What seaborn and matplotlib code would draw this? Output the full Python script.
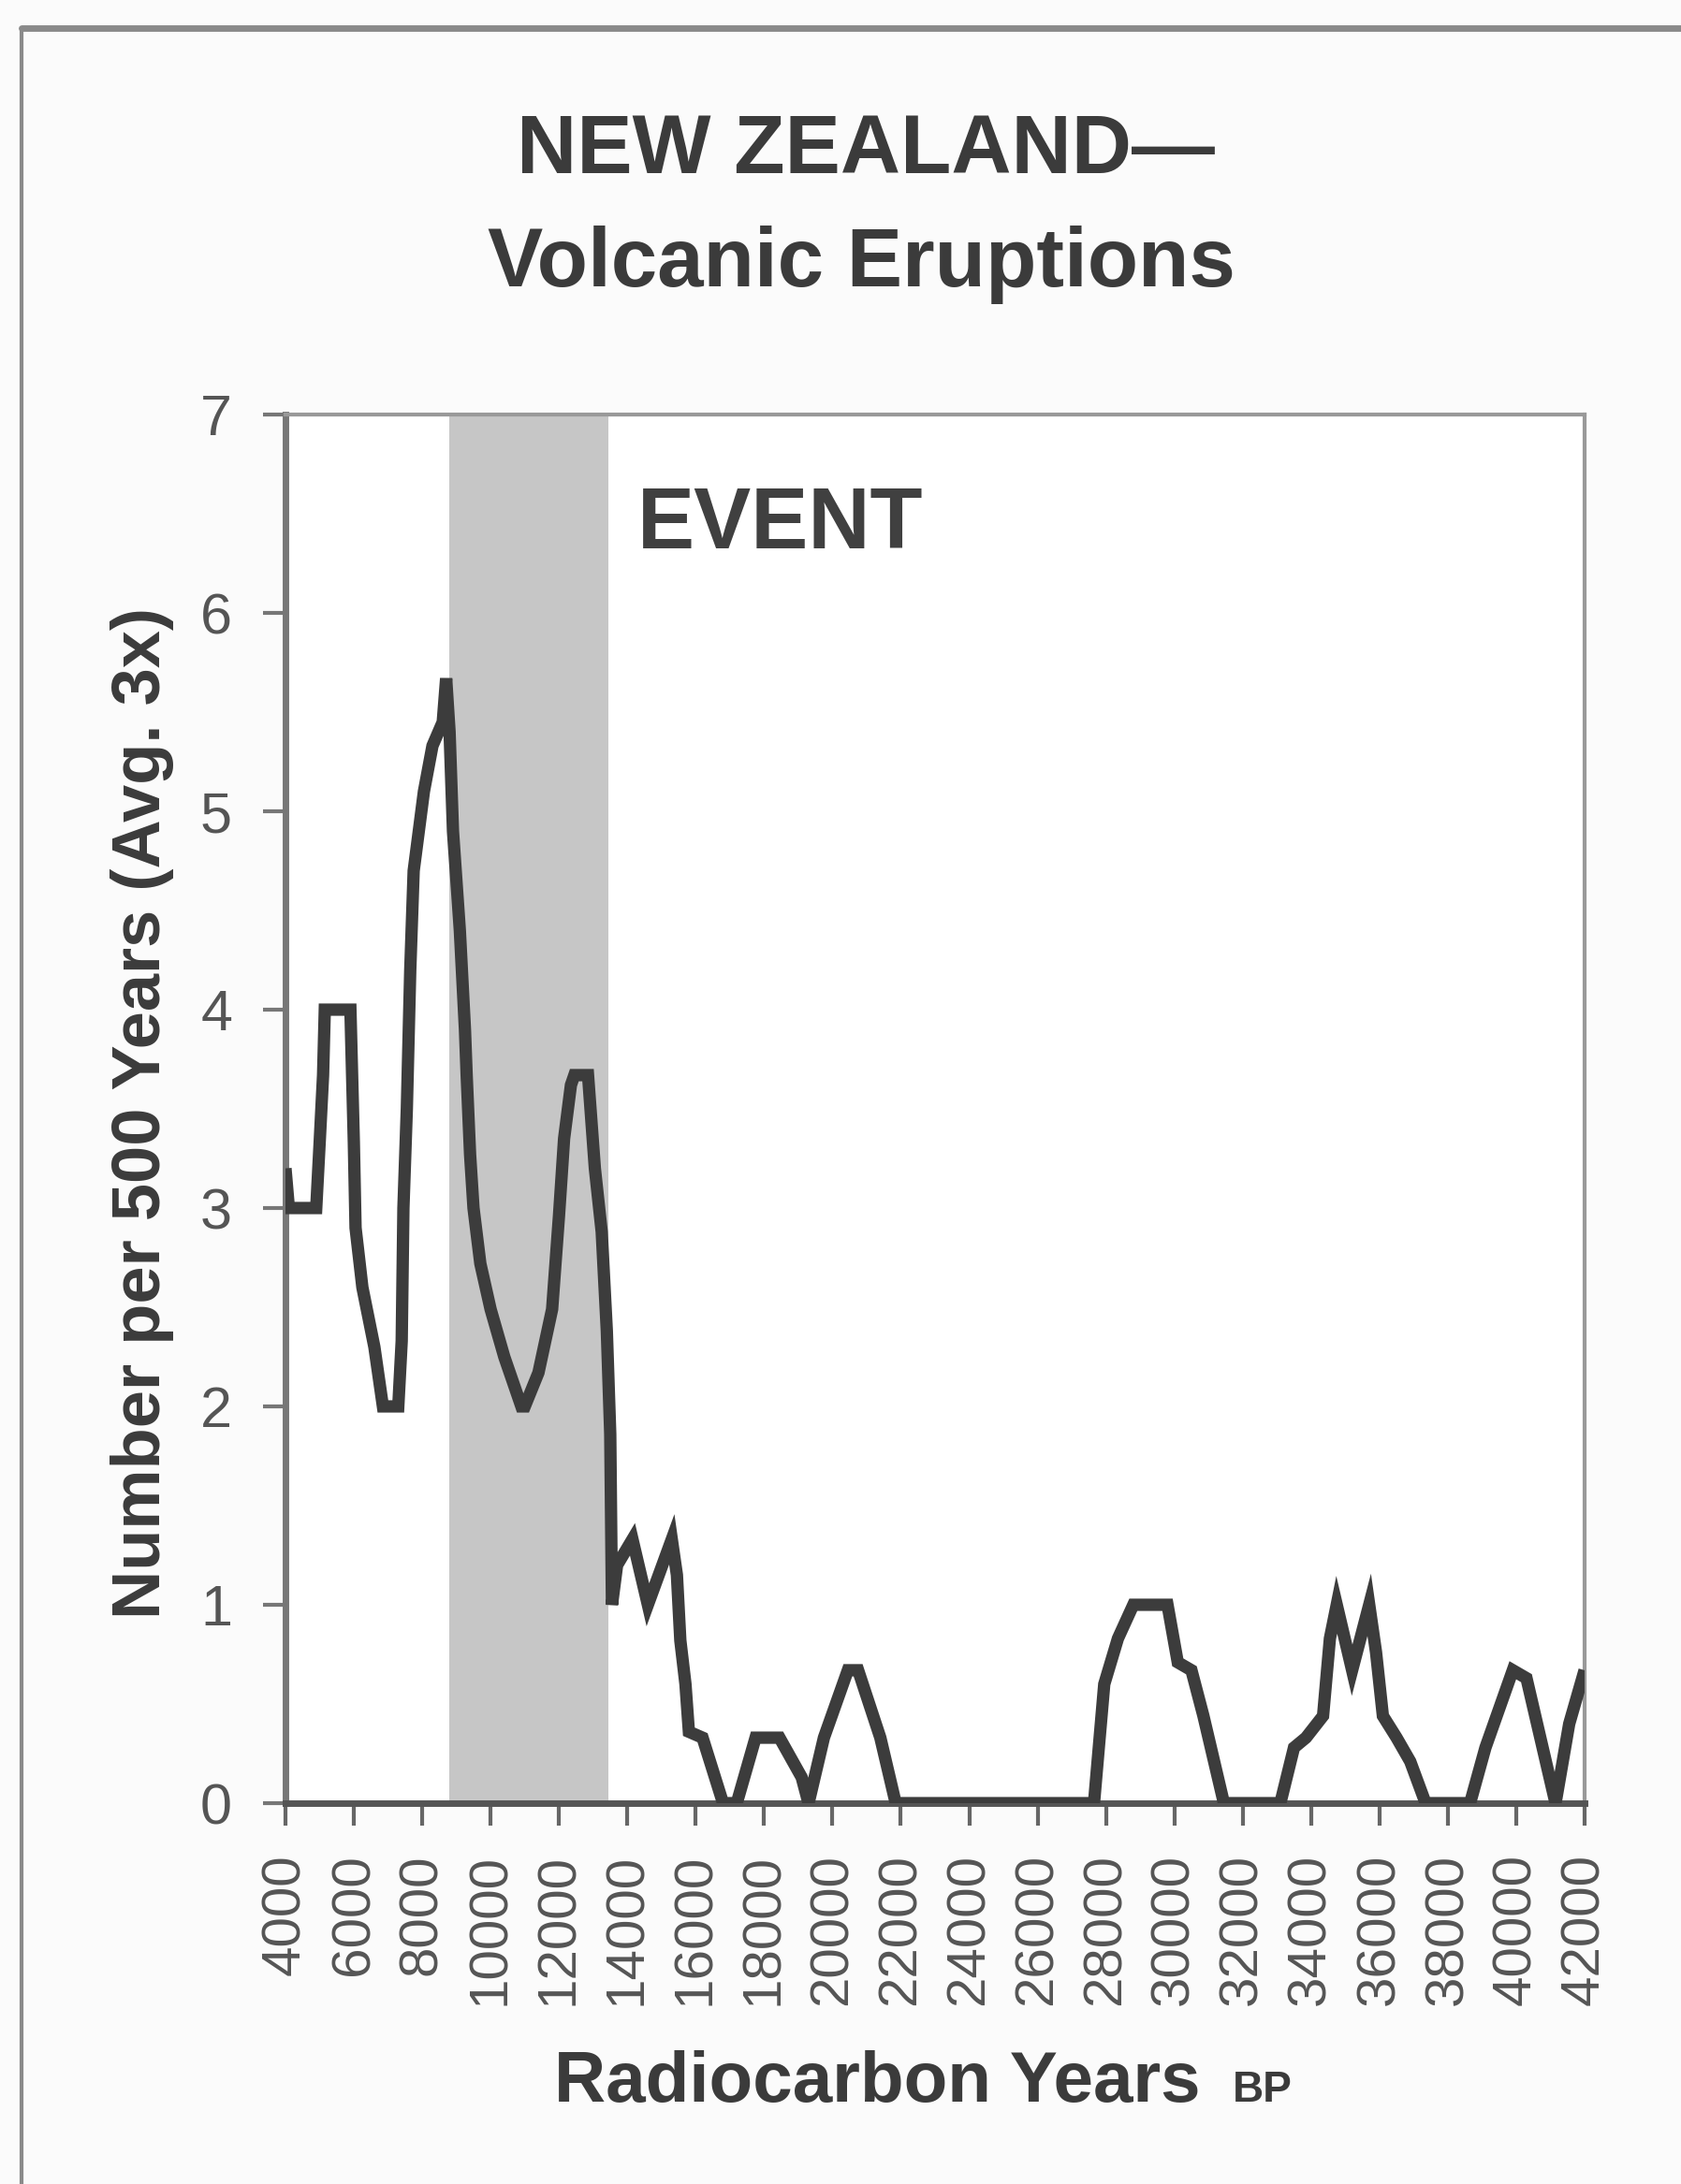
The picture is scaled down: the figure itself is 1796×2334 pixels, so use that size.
import matplotlib
matplotlib.use("Agg")
import matplotlib.pyplot as plt
from matplotlib.lines import Line2D
import seaborn as sns
import pandas as pd

# ---- data ----
years = [4000, 4100, 4900, 5000, 5100, 5150, 5900, 6000, 6050, 6250, 6600, 6850,
         7300, 7400, 7450, 7550, 7650, 7750, 7900, 8050, 8300, 8600, 8700, 8800,
         8900, 9100, 9250, 9300, 9400, 9500, 9700, 10000, 10400, 10900, 11000,
         11400, 11800, 12000, 12150, 12350, 12450, 12850, 13050, 13250, 13400,
         13500, 13550, 13700, 14150, 14600, 15300, 15450, 15550, 15700, 15800,
         16200, 16800, 17200, 17750, 18450, 19100, 19300, 19750, 20450, 20750,
         21400, 21850, 27650, 27950, 28350, 28800, 29800, 30100, 30500, 30850,
         31450, 33100, 33500, 33850, 34350, 34550, 34750, 35200, 35700, 35900,
         36100, 36500, 36900, 37350, 38650, 39100, 39900, 40300, 41150, 41550,
         42000]
eruptions = [3.2, 3.0, 3.0, 3.33, 3.67, 4.0, 4.0, 3.33, 2.9, 2.6, 2.3, 2.0,
             2.0, 2.33, 3.0, 3.5, 4.2, 4.7, 4.9, 5.1, 5.33, 5.45, 5.67, 5.4,
             4.9, 4.4, 3.9, 3.67, 3.27, 3.0, 2.72, 2.49, 2.25, 2.0, 2.0,
             2.17, 2.49, 2.96, 3.35, 3.62, 3.67, 3.67, 3.2, 2.88, 2.38,
             1.86, 1.0, 1.2, 1.33, 1.0, 1.33, 1.15, 0.82, 0.6, 0.36,
             0.33, 0.0, 0.0, 0.33, 0.33, 0.13, 0.0, 0.33, 0.67, 0.67,
             0.33, 0.0, 0.0, 0.6, 0.83, 1.0, 1.0, 0.71, 0.67, 0.44,
             0.0, 0.0, 0.28, 0.33, 0.44, 0.83, 1.0, 0.67, 1.0, 0.76,
             0.44, 0.33, 0.21, 0.0, 0.0, 0.28, 0.67, 0.63, 0.0, 0.4,
             0.67]
event_span = [8800, 13450]
x_ticks = list(range(4000, 42001, 2000))
y_ticks = [0, 1, 2, 3, 4, 5, 6, 7]

df = pd.DataFrame({"year": years, "n": eruptions})

sns.set_theme(style="white")
plt.rcParams["font.family"] = ["Liberation Sans", "DejaVu Sans"]

W, H = 1796, 2334
fig = plt.figure(figsize=(W / 100, H / 100), dpi=100, facecolor="#fbfbfb")
ax = fig.add_axes([305 / W, 1 - 1927 / H, (1693 - 305) / W, (1927 - 443) / H])
ax.set_facecolor("white")

ax.axvspan(event_span[0], event_span[1], color="#c6c6c6", lw=0, zorder=0)
sns.lineplot(data=df, x="year", y="n", ax=ax, color="#3c3c3c", lw=9.5,
             estimator=None, sort=False, legend=False, zorder=3,
             solid_joinstyle="miter", solid_capstyle="butt")

ax.set_xlim(4000, 42000)
ax.set_ylim(0, 7)
ax.set_xticks(x_ticks)
ax.set_xticklabels([str(v) for v in x_ticks], rotation=90, va="top", ha="center")
ax.set_yticks(y_ticks)
ax.set_yticklabels([str(v) for v in y_ticks])
ax.tick_params(axis="x", length=17, width=3, color="#666666", pad=22,
               labelsize=42, labelcolor="#555555", bottom=True, direction="out")
ax.tick_params(axis="y", length=17, width=3, color="#777777", pad=24,
               labelsize=44, labelcolor="#555555", left=True, direction="out")
ax.set_xlabel("")
ax.set_ylabel("")

for side, c, w in [("left", "#777777", 5), ("bottom", "#555555", 5),
                   ("top", "#999999", 3), ("right", "#999999", 3)]:
    ax.spines[side].set_visible(True)
    ax.spines[side].set_color(c)
    ax.spines[side].set_linewidth(w)
ax.grid(False)

ax.text(0.271, 0.92, "EVENT", transform=ax.transAxes, fontsize=66,
        fontweight="bold", color="#404040", ha="left", va="center")

tc = "#3b3b3b"
fig.text(925 / W, 1 - 162 / H, "NEW ZEALAND\u2014", fontsize=64, fontweight="bold",
         color=tc, ha="center", va="center")
fig.text(920 / W, 1 - 283 / H, "Volcanic Eruptions", fontsize=64, fontweight="bold",
         color=tc, ha="center", va="center")
fig.text(152 / W, 1 - 1190 / H, "Number per 500 Years (Avg. 3x)", fontsize=52,
         fontweight="bold", color=tc, rotation=90, ha="center", va="center")
fig.text(937 / W, 1 - 2246 / H, "Radiocarbon Years", fontsize=55,
         fontweight="bold", color=tc, ha="center", va="baseline")
fig.text(1317 / W, 1 - 2246 / H, "BP", fontsize=33, fontweight="bold",
         color=tc, ha="left", va="baseline")

# page frame lines (scan border)
fig.add_artist(Line2D([23 / W, 23 / W], [0, 1 - 30 / H], transform=fig.transFigure,
                      color="#8a8a8a", lw=3))
fig.add_artist(Line2D([23 / W, 1], [1 - 30 / H, 1 - 30 / H], transform=fig.transFigure,
                      color="#8a8a8a", lw=5))

fig.savefig("out.png", dpi=100, facecolor=fig.get_facecolor())
